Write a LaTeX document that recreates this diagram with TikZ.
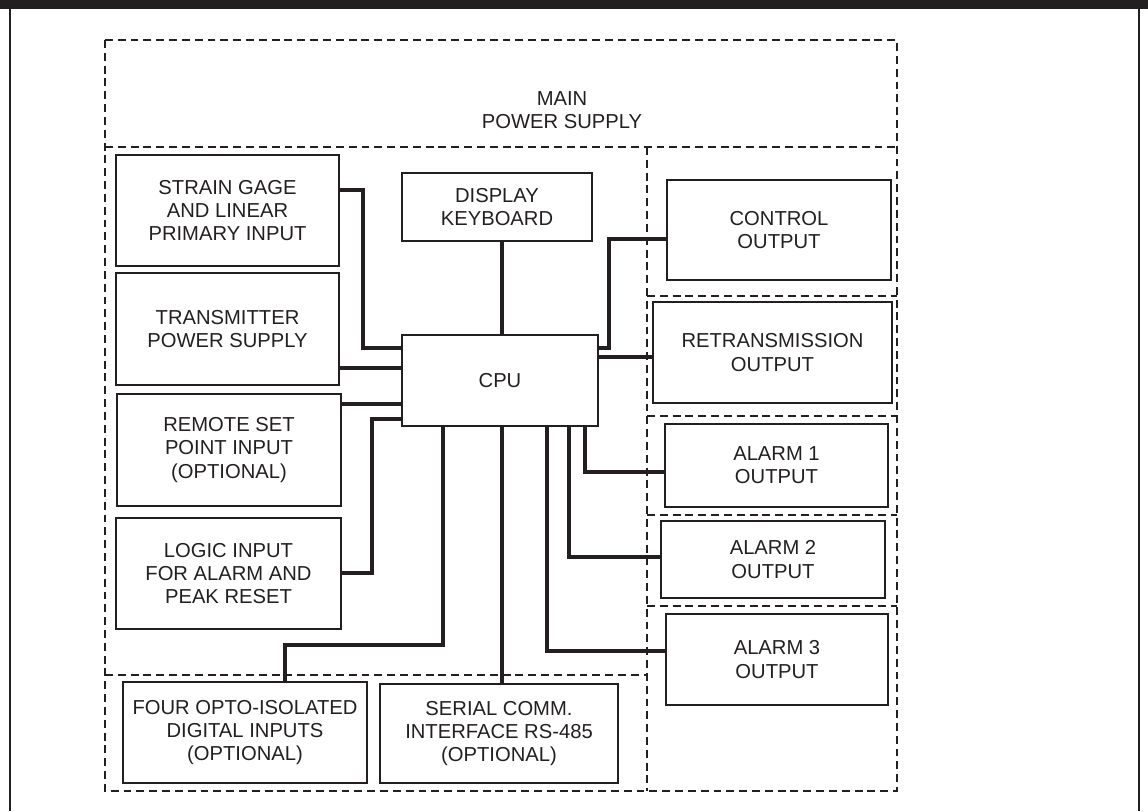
\documentclass[tikz,border=0pt]{standalone}
\usepackage{fontspec}
\setmainfont{Liberation Sans}
\definecolor{ink}{HTML}{231F20}
\newcommand\mybox[6]{\node[box,minimum width={(#4-#2)*0.02cm},minimum height={(#5-#3)*0.02cm}] (#1) at ({(#2+#4)/2},{(#3+#5)/2}) {#6};}
\begin{document}
\begin{tikzpicture}[x=0.02cm,y=-0.02cm,
  box/.style={draw=ink,line width=1.1pt,inner sep=0pt,align=center,text=ink,
    font=\fontsize{11.5}{13.2}\selectfont},
  label/.style={inner sep=0pt,align=center,text=ink,font=\fontsize{11.5}{13.2}\selectfont},
  wire/.style={draw=ink,line width=2.6pt,line join=miter},
  zone/.style={draw=ink,line width=1.1pt,dash pattern=on 4.5pt off 2.8pt},
  frame/.style={draw=ink,line width=1.6pt}]
\useasboundingbox (0,0) rectangle (1148,811);
% page frame
\fill[ink] (0,0) rectangle (1148,9);
\draw[frame] (10,9) -- (10,811);
\draw[frame] (1139,9) -- (1139,811);
% dashed zones
\draw[zone] (105,40) rectangle (897,791);
\draw[zone] (105,147) -- (897,147);
\draw[zone] (647,147) -- (647,791);
\draw[zone] (105,675) -- (647,675);
\draw[zone] (647,296) -- (897,296);
\draw[zone] (647,416) -- (897,416);
\draw[zone] (647,515) -- (897,515);
\draw[zone] (647,606) -- (897,606);
% boxes
\node[label] (mps) at (562,110) {MAIN\\POWER SUPPLY};
\mybox{strain}{116}{155}{339}{266}{STRAIN GAGE\\AND LINEAR\\PRIMARY INPUT}
\mybox{xmit}{116}{273}{339}{385}{TRANSMITTER\\POWER SUPPLY}
\mybox{rsp}{117}{394}{341}{506}{REMOTE SET\\POINT INPUT\\(OPTIONAL)}
\mybox{logic}{116}{518}{341}{629}{LOGIC INPUT\\FOR ALARM AND\\PEAK RESET}
\mybox{disp}{402}{173}{592}{241}{DISPLAY\\KEYBOARD}
\mybox{cpu}{402}{335}{598}{426}{CPU}
\mybox{opto}{123}{682}{367}{783}{FOUR OPTO-ISOLATED\\DIGITAL INPUTS\\(OPTIONAL)}
\mybox{serial}{380}{684}{618}{783}{SERIAL COMM.\\INTERFACE RS-485\\(OPTIONAL)}
\mybox{ctrl}{667}{180}{891}{280}{CONTROL\\OUTPUT}
\mybox{retx}{653}{302}{892}{403}{RETRANSMISSION\\OUTPUT}
\mybox{al1}{665}{424}{888}{507}{ALARM 1\\OUTPUT}
\mybox{al2}{661}{521}{885}{598}{ALARM 2\\OUTPUT}
\mybox{al3}{666}{614}{888}{705}{ALARM 3\\OUTPUT}
% connectors
\draw[wire] (strain.east |- 0,190) -- (363,190) -- (363,348) -- (cpu.west |- 0,348);
\draw[wire] (xmit.east |- 0,368) -- (cpu.west |- 0,368);
\draw[wire] (rsp.east |- 0,404) -- (cpu.west |- 0,404);
\draw[wire] (logic.east |- 0,573) -- (372,573) -- (372,419) -- (cpu.west |- 0,419);
\draw[wire] (disp.south -| 502,0) -- (cpu.north -| 502,0);
\draw[wire] (cpu.south -| 502,0) -- (serial.north -| 502,0);
\draw[wire] (cpu.south -| 443,0) -- (443,645) -- (285,645) -- (opto.north -| 285,0);
\draw[wire] (ctrl.west |- 0,239) -- (609,239) -- (609,348) -- (cpu.east |- 0,348);
\draw[wire] (cpu.east |- 0,357) -- (retx.west |- 0,357);
\draw[wire] (cpu.south -| 585,0) -- (585,472) -- (al1.west |- 0,472);
\draw[wire] (cpu.south -| 569,0) -- (569,557) -- (al2.west |- 0,557);
\draw[wire] (cpu.south -| 547,0) -- (547,651) -- (al3.west |- 0,651);
\end{tikzpicture}
\end{document}
